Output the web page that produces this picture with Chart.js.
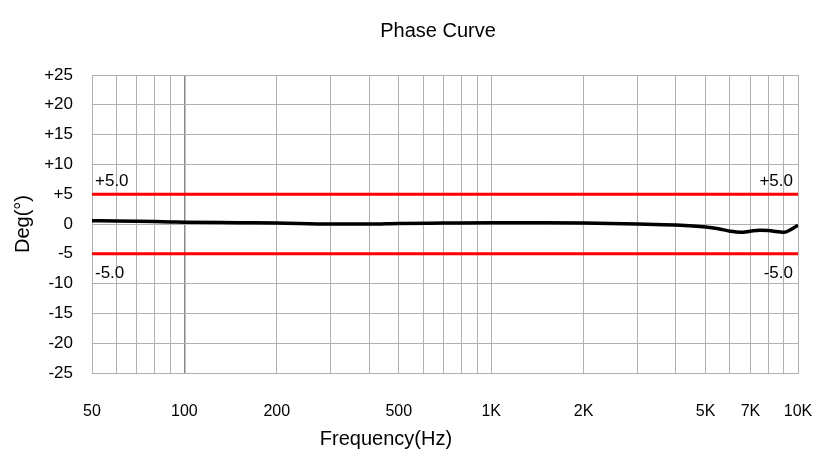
<!DOCTYPE html>
<html>
<head>
<meta charset="utf-8">
<script src="https://cdn.jsdelivr.net/npm/chart.js@4"></script>
<style>
  html, body { margin: 0; padding: 0; background: #fff; }
  #wrap { width: 823px; height: 452px; }
</style>
</head>
<body>
<div id="wrap"><canvas id="myChart" width="823" height="452"></canvas></div>
<script>
const freqs = [50, 60, 70, 80, 90, 100, 150, 200, 300, 400, 500, 700, 1000, 1500, 2000, 3000, 4000, 5000, 5500, 6000, 6500, 7000, 7500, 8000, 8500, 9000, 9500, 10000];
const phase = [0.55, 0.5, 0.45, 0.4, 0.35, 0.3, 0.22, 0.17, 0, 0, 0.1, 0.15, 0.2, 0.2, 0.15, 0, -0.17, -0.5, -0.8, -1.2, -1.4, -1.2, -1.05, -1.1, -1.25, -1.4, -0.9, -0.2];
const limits = [5, -5];
const limitLabels = ['+5.0', '-5.0'];
const gridFreqs = [50, 60, 70, 80, 90, 100, 200, 300, 400, 500, 600, 700, 800, 900, 1000, 2000, 3000, 4000, 5000, 6000, 7000, 8000, 9000, 10000];
const xLabels = { 50: '50', 100: '100', 200: '200', 500: '500', 1000: '1K', 2000: '2K', 5000: '5K', 7000: '7K', 10000: '10K' };
const yTicks = [-25, -20, -15, -10, -5, 0, 5, 10, 15, 20, 25];

const FONT = "'Liberation Sans', Arial, sans-serif";
Chart.defaults.font.family = FONT;
Chart.defaults.color = '#000';

const curve = freqs.map((f, i) => ({ x: f, y: phase[i] }));
const limitSets = limits.map(v => ({
  data: [{ x: freqs[0], y: v }, { x: freqs[freqs.length - 1], y: v }],
  borderColor: '#ff0000',
  borderWidth: 3,
  pointRadius: 0,
  order: 2
}));

// title, x-axis title and the +/-5.0 limit labels
const extras = {
  id: 'extras',
  afterDatasetsDraw(chart) {
    const { ctx, chartArea, scales } = chart;
    ctx.save();
    ctx.fillStyle = '#000';
    ctx.font = '17px ' + FONT;
    limits.forEach((v, i) => {
      const y = scales.y.getPixelForValue(v);
      const by = v > 0 ? y - 8 : y + 24;
      ctx.textAlign = 'left';
      ctx.fillText(limitLabels[i], chartArea.left + 3, by);
      ctx.textAlign = 'right';
      ctx.fillText(limitLabels[i], chartArea.right - 5, by);
    });
    ctx.font = '20px ' + FONT;
    ctx.textAlign = 'center';
    ctx.textBaseline = 'middle';
    ctx.fillText('Phase Curve', 438, 31);
    ctx.fillText('Frequency(Hz)', 386, 439);
    ctx.restore();
  }
};

new Chart(document.getElementById('myChart'), {
  type: 'line',
  data: {
    datasets: [{
      data: curve,
      borderColor: '#000',
      borderWidth: 3.5,
      pointRadius: 0,
      cubicInterpolationMode: 'monotone',
      order: 1
    }, ...limitSets]
  },
  options: {
    responsive: false,
    animation: false,
    layout: { padding: { top: 75, right: 25, left: 0, bottom: 0 } },
    plugins: { legend: { display: false }, tooltip: { enabled: false } },
    scales: {
      x: {
        type: 'logarithmic',
        min: 50,
        max: 10000,
        afterBuildTicks: s => { s.ticks = gridFreqs.map(v => ({ value: v })); },
        afterFit: s => { s.height = 79; s.paddingLeft = 0; s.paddingRight = 0; },
        ticks: {
          autoSkip: false,
          maxRotation: 0,
          padding: 29,
          font: { size: 16 },
          callback: v => xLabels[v] || ''
        },
        grid: {
          drawTicks: false,
          color: c => (c.tick && c.tick.value === 100) ? '#888888' : '#b0b0b0',
          lineWidth: c => (c.tick && c.tick.value === 100) ? 1.5 : 1
        },
        border: { color: '#b0b0b0' }
      },
      y: {
        min: -25,
        max: 25,
        afterBuildTicks: s => { s.ticks = yTicks.map(v => ({ value: v })); },
        afterFit: s => { s.width = 92; s.paddingTop = 0; s.paddingBottom = 0; },
        ticks: {
          padding: 19,
          font: { size: 17 },
          callback: v => v > 0 ? '+' + v : String(v)
        },
        grid: { drawTicks: false, color: '#b0b0b0' },
        border: { color: '#b0b0b0' },
        title: { display: true, text: 'Deg(°)', font: { size: 20 }, padding: { top: 11, bottom: 0 } }
      }
    }
  },
  plugins: [extras]
});
</script>
</body>
</html>
